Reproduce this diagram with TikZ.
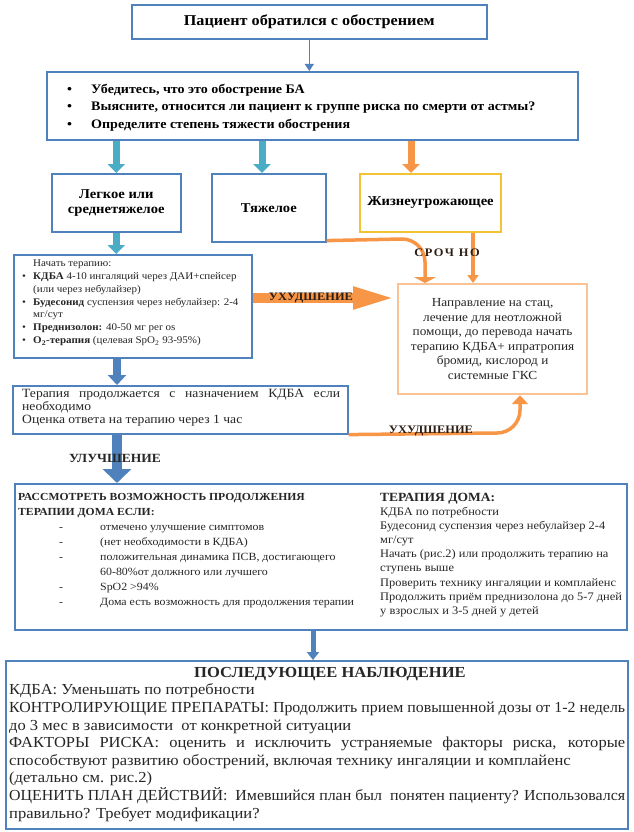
\documentclass[tikz,border=0pt]{standalone}
\usepackage{fontspec}
\usepackage{graphicx}
\setmainfont{Liberation Serif}[FakeStretch=1.08]
\usetikzlibrary{arrows.meta,calc}
\definecolor{boxblue}{RGB}{79,129,189}
\definecolor{arrcyan}{RGB}{75,172,198}
\definecolor{arrblue}{RGB}{79,129,189}
\definecolor{orng}{RGB}{247,150,70}
\definecolor{gold}{RGB}{242,195,50}
\definecolor{lorng}{RGB}{250,195,150}
\definecolor{txt}{RGB}{38,38,38}
\definecolor{lbltxt}{RGB}{45,30,20}
\newcommand{\fs}[2]{\fontsize{#1}{#2}\selectfont}
\newcommand{\fitl}[1]{\resizebox{616pt}{\height}{#1}}
\begin{document}
\begin{tikzpicture}[x=1pt,y=-1pt,
  bluebox/.style={draw=boxblue, line width=1.6pt, fill=white, inner sep=0pt, anchor=north west, align=center, text=black},
  goldbox/.style={bluebox, draw=gold, line width=2pt},
  orbox/.style={bluebox, draw=lorng, line width=2.2pt, text=txt},
  txtn/.style={inner sep=0pt, anchor=north west, align=left, text=txt},
  lbl/.style={inner sep=0pt, font=\fs{11.5}{13}\bfseries, text=lbltxt},
  thinarr/.style={draw=boxblue, line width=1.3pt, -{Triangle[width=9pt,length=7pt]}},
  cyanarr/.style={draw=arrcyan, line width=7pt, -{Triangle[width=17pt,length=9pt]}},
  bluearr/.style={draw=arrblue, line width=8pt, -{Triangle[width=18pt,length=10pt]}},
  bigblue/.style={draw=arrblue, line width=10pt, -{Triangle[width=28pt,length=14pt]}},
  smallblue/.style={draw=arrblue, line width=5pt, -{Triangle[width=12pt,length=8pt]}},
  orngarr/.style={draw=orng, line width=7pt, -{Triangle[width=17pt,length=9pt]}},
  oline/.style={draw=orng, line width=3.5pt},
  blockor/.style={draw=orng, line width=10pt, -{Triangle[width=20pt,length=44pt]}}
]
\useasboundingbox (0,0) rectangle (634,832);
\fill[white] (0,0) rectangle (634,832);

% boxes
\node[bluebox, minimum width=355pt, minimum height=34pt, font=\fs{15}{18}\bfseries] (T) at (131,4) {Пациент обратился с обострением};
\node[bluebox, minimum width=531pt, minimum height=68pt] (B2) at (46,71) {};
\node[txtn, font=\fs{13}{17.5}\bfseries, text=black] (B2t) at (67,83.5) {%
\makebox[24pt][l]{\textbullet}Убедитесь, что это обострение БА\\
\makebox[24pt][l]{\textbullet}Выясните, относится ли пациент к группе риска по смерти от астмы?\\
\makebox[24pt][l]{\textbullet}Определите степень тяжести обострения};

\node[bluebox, minimum width=129pt, minimum height=58pt, font=\fs{13.5}{15}\bfseries] (L) at (51,173) {Легкое или\\среднетяжелое};
\node[bluebox, minimum width=114pt, minimum height=68pt, font=\fs{13.5}{15}\bfseries] (H) at (211,173) {Тяжелое};
\node[goldbox, minimum width=141pt, minimum height=58pt, font=\fs{13.5}{15}\bfseries] (Z) at (359,173) {Жизнеугрожающее};

\node[bluebox, minimum width=238pt, minimum height=103pt] (Th) at (13,254) {};
\node[txtn, font=\fs{10.2}{12.9}] (Tht) at (22,259.5) {%
\hspace*{11pt}Начать терапию:\\
\makebox[11pt][l]{\textbullet}\textbf{КДБА} 4-10 ингаляций через ДАИ+спейсер\\
\hspace*{11pt}(или через небулайзер)\\
\makebox[11pt][l]{\textbullet}\textbf{Будесонид} суспензия через небулайзер: 2-4\\
\hspace*{11pt}мг/сут\\
\makebox[11pt][l]{\textbullet}\textbf{Преднизолон:} 40-50 мг per os\\
\makebox[11pt][l]{\textbullet}\textbf{O\textsubscript{2}-терапия} (целевая SpO\textsubscript{2} 93-95\%)};

\node[orbox, minimum width=189pt, minimum height=110pt, font=\fs{12.3}{14.5}] (O) at (397,283) {Направление на стац,\\лечение для неотложной\\помощи, до перевода начать\\терапию КДБА+ ипратропия\\бромид, кислород и\\системные ГКС};

\node[bluebox, minimum width=335pt, minimum height=48pt] (Te) at (12,385) {};
\node[txtn, font=\fs{12.6}{13.2}] (Tet) at (22,388.5) {%
\makebox[318pt][s]{Терапия продолжается с назначением КДБА если}\\
необходимо\\
Оценка ответа на терапию через 1 час};

\node[bluebox, minimum width=612pt, minimum height=146pt] (Big) at (14,483) {};
\node[txtn, font=\fs{11}{15}] (BigL) at (18,493) {%
{\fs{10.8}{15}\bfseries РАССМОТРЕТЬ ВОЗМОЖНОСТЬ ПРОДОЛЖЕНИЯ}\\
{\fs{10.8}{15}\bfseries ТЕРАПИИ ДОМА ЕСЛИ:}\\
\hspace*{41pt}\makebox[41pt][l]{-}отмечено улучшение симптомов\\
\hspace*{41pt}\makebox[41pt][l]{-}(нет необходимости в КДБА)\\
\hspace*{41pt}\makebox[41pt][l]{-}положительная динамика ПСВ, достигающего\\
\hspace*{82pt}60-80\%от должного или лучшего\\
\hspace*{41pt}\makebox[41pt][l]{-}SpO2 >94\%\\
\hspace*{41pt}\makebox[41pt][l]{-}Дома есть возможность для продолжения терапии};
\node[txtn, font=\fs{11.5}{14.1}] (BigR) at (380,493) {%
{\fs{12.5}{14}\bfseries ТЕРАПИЯ ДОМА:}\\
КДБА по потребности\\
Будесонид суспензия через небулайзер 2-4\\
мг/сут\\
Начать (рис.2) или продолжить терапию на\\
ступень выше\\
Проверить технику ингаляции и комплайенс\\
Продолжить приём преднизолона до 5-7 дней\\
у взрослых и 3-5 дней у детей};

\node[bluebox, minimum width=622pt, minimum height=168pt] (F) at (5,660) {};
\node[txtn, font=\fs{15.3}{17.6}] (Ft) at (9,667) {%
\hspace*{185pt}\textbf{ПОСЛЕДУЮЩЕЕ НАБЛЮДЕНИЕ}\\
КДБА: Уменьшать по потребности\\
\fitl{КОНТРОЛИРУЮЩИЕ ПРЕПАРАТЫ: Продолжить прием повышенной дозы от 1-2 недель}\\
до 3 мес в зависимости\ \ от конкретной ситуации\\
\makebox[616pt][s]{ФАКТОРЫ РИСКА: оценить и исключить устраняемые факторы риска, которые}\\
способствуют развитию обострений, включая технику ингаляции и комплайенс\\
(детально см. рис.2)\\
\fitl{ОЦЕНИТЬ ПЛАН ДЕЙСТВИЙ:\ \ Имевшийся план был\ \ понятен пациенту? Использовался}\\
правильно? Требует модификации?};

% connectors
\coordinate (hx) at (262,0);
\coordinate (zx) at (411,0);
\coordinate (ax) at (117,0);
\coordinate (fx) at (313,0);
\coordinate (uy) at (0,298);
\coordinate (ox1) at (425,0);
\coordinate (ox2) at (473,0);
\coordinate (ox3) at (520,0);

\draw[thinarr] (T.south) -- (T.south |- B2.north);
\draw[cyanarr] (L.north |- B2.south) -- (L.north);
\draw[cyanarr] (hx |- B2.south) -- (hx |- H.north);
\draw[orngarr] (zx |- B2.south) -- (zx |- Z.north);
\draw[cyanarr] (L.south) -- (L.south |- Th.north);
\draw[bluearr] (ax |- Th.south) -- (ax |- Te.north);
\draw[bigblue] (ax |- Te.south) -- (ax |- Big.north);
\draw[smallblue] (fx |- Big.south) -- (fx |- F.north);
\draw[blockor] (Th.east |- uy) -- (O.west |- uy);
\draw[oline, -{Triangle[width=22pt,length=6pt]}] ([yshift=2pt]H.south east) -- (402,239) to[out=0,in=90] (425,262) -- (ox1 |- O.north);
\draw[oline, -{Triangle[width=11pt,length=8pt]}] (ox2 |- Z.south) -- (ox2 |- O.north);
\draw[oline, -{Triangle[width=16pt,length=9pt]}] (Te.south east) -- (497,433) to[out=0,in=-90] (520,410) -- (ox3 |- O.south);

% labels
\node[lbl] (sr) at (447,253) {\addfontfeatures{LetterSpace=14}СРОЧ НО};
\node[lbl] (uh1) at (311,298) {УХУДШЕНИЕ};
\node[lbl] (uh2) at (431,431) {УХУДШЕНИЕ};
\node[lbl, font=\fs{12.5}{14}\bfseries, text=txt] (ul) at (115,458) {УЛУЧШЕНИЕ};
\end{tikzpicture}
\end{document}
